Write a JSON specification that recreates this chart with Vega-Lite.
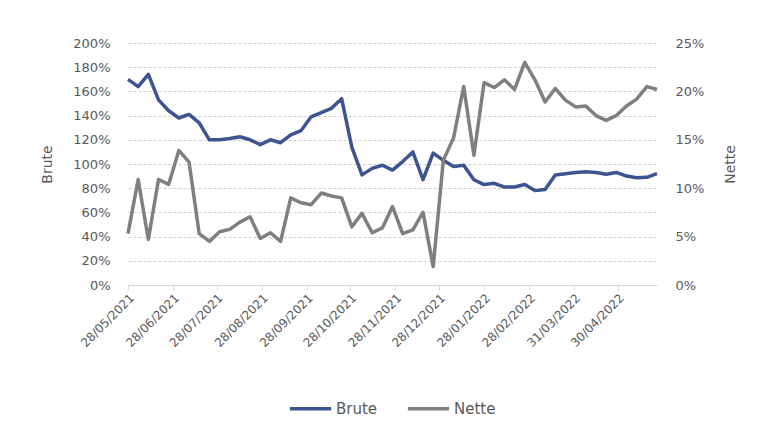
{
  "$schema": "https://vega.github.io/schema/vega-lite/v6.json",
  "width": 529,
  "height": 242,
  "autosize": {"type": "none"},
  "padding": {"left": 128, "top": 43, "right": 106, "bottom": 144},
  "background": "white",
  "config": {
    "font": "DejaVu Sans",
    "view": {"stroke": null},
    "axis": {"labelColor": "#595959", "titleColor": "#595959", "labelFontSize": 13, "titleFontSize": 14, "titleFontWeight": "normal"},
    "legend": {"labelColor": "#595959", "labelFontSize": 15}
  },
  "data": {
    "values": [
      {"date": "2021-05-28", "brute": 1.70, "nette": 0.053},
      {"date": "2021-06-04", "brute": 1.64, "nette": 0.109},
      {"date": "2021-06-11", "brute": 1.74, "nette": 0.047},
      {"date": "2021-06-18", "brute": 1.53, "nette": 0.109},
      {"date": "2021-06-25", "brute": 1.44, "nette": 0.104},
      {"date": "2021-07-02", "brute": 1.38, "nette": 0.139},
      {"date": "2021-07-09", "brute": 1.41, "nette": 0.127},
      {"date": "2021-07-16", "brute": 1.34, "nette": 0.053},
      {"date": "2021-07-23", "brute": 1.20, "nette": 0.045},
      {"date": "2021-07-30", "brute": 1.20, "nette": 0.055},
      {"date": "2021-08-06", "brute": 1.21, "nette": 0.0575},
      {"date": "2021-08-13", "brute": 1.225, "nette": 0.065},
      {"date": "2021-08-20", "brute": 1.20, "nette": 0.0705},
      {"date": "2021-08-27", "brute": 1.16, "nette": 0.048},
      {"date": "2021-09-03", "brute": 1.20, "nette": 0.054},
      {"date": "2021-09-10", "brute": 1.176, "nette": 0.045},
      {"date": "2021-09-17", "brute": 1.24, "nette": 0.090},
      {"date": "2021-09-24", "brute": 1.275, "nette": 0.085},
      {"date": "2021-10-01", "brute": 1.39, "nette": 0.083},
      {"date": "2021-10-08", "brute": 1.424, "nette": 0.095},
      {"date": "2021-10-15", "brute": 1.46, "nette": 0.092},
      {"date": "2021-10-22", "brute": 1.54, "nette": 0.090},
      {"date": "2021-10-29", "brute": 1.14, "nette": 0.060},
      {"date": "2021-11-05", "brute": 0.91, "nette": 0.074},
      {"date": "2021-11-12", "brute": 0.964, "nette": 0.054},
      {"date": "2021-11-19", "brute": 0.99, "nette": 0.059},
      {"date": "2021-11-26", "brute": 0.95, "nette": 0.081},
      {"date": "2021-12-03", "brute": 1.02, "nette": 0.053},
      {"date": "2021-12-10", "brute": 1.10, "nette": 0.057},
      {"date": "2021-12-17", "brute": 0.87, "nette": 0.075},
      {"date": "2021-12-24", "brute": 1.09, "nette": 0.019},
      {"date": "2021-12-31", "brute": 1.03, "nette": 0.129},
      {"date": "2022-01-07", "brute": 0.98, "nette": 0.152},
      {"date": "2022-01-14", "brute": 0.99, "nette": 0.205},
      {"date": "2022-01-21", "brute": 0.87, "nette": 0.134},
      {"date": "2022-01-28", "brute": 0.83, "nette": 0.209},
      {"date": "2022-02-04", "brute": 0.84, "nette": 0.204},
      {"date": "2022-02-11", "brute": 0.81, "nette": 0.212},
      {"date": "2022-02-18", "brute": 0.81, "nette": 0.202},
      {"date": "2022-02-25", "brute": 0.83, "nette": 0.230},
      {"date": "2022-03-04", "brute": 0.78, "nette": 0.212},
      {"date": "2022-03-11", "brute": 0.79, "nette": 0.189},
      {"date": "2022-03-18", "brute": 0.91, "nette": 0.203},
      {"date": "2022-03-25", "brute": 0.92, "nette": 0.191},
      {"date": "2022-04-01", "brute": 0.93, "nette": 0.184},
      {"date": "2022-04-08", "brute": 0.935, "nette": 0.185},
      {"date": "2022-04-15", "brute": 0.93, "nette": 0.175},
      {"date": "2022-04-22", "brute": 0.915, "nette": 0.170},
      {"date": "2022-04-29", "brute": 0.93, "nette": 0.175},
      {"date": "2022-05-06", "brute": 0.90, "nette": 0.185},
      {"date": "2022-05-13", "brute": 0.887, "nette": 0.192},
      {"date": "2022-05-20", "brute": 0.89, "nette": 0.205},
      {"date": "2022-05-27", "brute": 0.92, "nette": 0.202}
    ]
  },
  "encoding": {
    "x": {
      "field": "date",
      "type": "temporal",
      "scale": {"type": "utc", "domain": [{"year": 2021, "month": 5, "date": 28, "utc": true}, {"year": 2022, "month": 5, "date": 27, "utc": true}]},
      "axis": {
        "title": null,
        "format": "%d/%m/%Y",
        "labelAngle": -45,
        "labelFontSize": 12,
        "labelOverlap": false,
        "grid": false,
        "domainColor": "#D9D9D9",
        "tickColor": "#D9D9D9",
        "tickSize": 5,
        "labelPadding": 2,
        "values": [
          {"year": 2021, "month": 5, "date": 28, "utc": true},
          {"year": 2021, "month": 6, "date": 28, "utc": true},
          {"year": 2021, "month": 7, "date": 28, "utc": true},
          {"year": 2021, "month": 8, "date": 28, "utc": true},
          {"year": 2021, "month": 9, "date": 28, "utc": true},
          {"year": 2021, "month": 10, "date": 28, "utc": true},
          {"year": 2021, "month": 11, "date": 28, "utc": true},
          {"year": 2021, "month": 12, "date": 28, "utc": true},
          {"year": 2022, "month": 1, "date": 28, "utc": true},
          {"year": 2022, "month": 2, "date": 28, "utc": true},
          {"year": 2022, "month": 3, "date": 31, "utc": true},
          {"year": 2022, "month": 4, "date": 30, "utc": true}
        ]
      }
    },
    "color": {
      "scale": {"domain": ["Brute", "Nette"], "range": ["#3E5491", "#7F7F7F"]},
      "legend": {
        "title": null,
        "orient": "none",
        "legendX": 160,
        "legendY": 343,
        "direction": "horizontal",
        "symbolType": "stroke",
        "symbolSize": 1700,
        "symbolStrokeWidth": 3.5,
        "columnPadding": 22,
        "labelOffset": 3
      }
    }
  },
  "layer": [
    {
      "mark": {"type": "line", "strokeWidth": 3.5, "strokeJoin": "round"},
      "encoding": {
        "y": {
          "field": "brute",
          "type": "quantitative",
          "scale": {"domain": [0, 2]},
          "axis": {
            "title": "Brute",
            "format": ".0%",
            "values": [0, 0.2, 0.4, 0.6, 0.8, 1.0, 1.2, 1.4, 1.6, 1.8, 2.0],
            "grid": true,
            "gridColor": "#D0D0D0",
            "gridDash": [3, 2],
            "domain": false,
            "ticks": false,
            "labelPadding": 18,
            "titleX": -74,
            "titleY": 121,
            "titleBaseline": "bottom"
          }
        },
        "color": {"datum": "Brute", "type": "nominal"}
      }
    },
    {
      "mark": {"type": "line", "strokeWidth": 3.5, "strokeJoin": "round"},
      "encoding": {
        "y": {
          "field": "nette",
          "type": "quantitative",
          "scale": {"domain": [0, 0.25]},
          "axis": {
            "orient": "right",
            "title": "Nette",
            "titleAngle": -90,
            "titleX": 80,
            "titleY": 121,
            "titleBaseline": "bottom",
            "format": ".0%",
            "values": [0, 0.05, 0.1, 0.15, 0.2, 0.25],
            "grid": false,
            "domain": false,
            "ticks": false,
            "labelPadding": 18
          }
        },
        "color": {"datum": "Nette", "type": "nominal"}
      }
    }
  ],
  "resolve": {"scale": {"y": "independent"}}
}
